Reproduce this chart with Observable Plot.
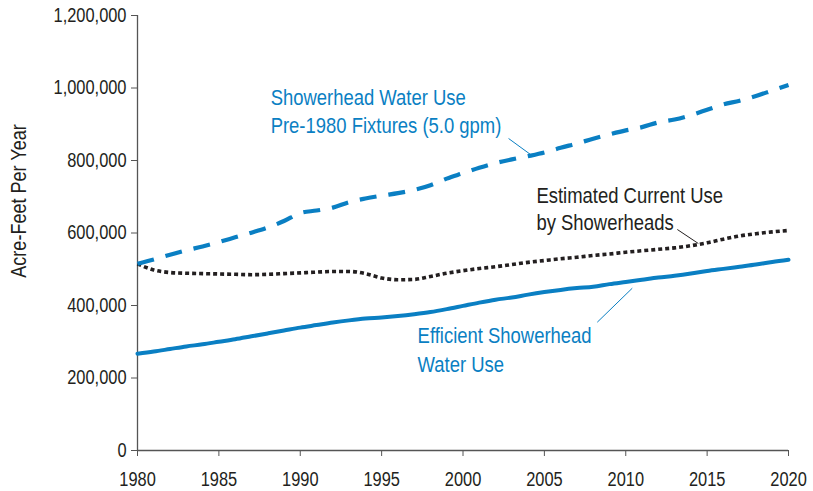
<!DOCTYPE html>
<html><head><meta charset="utf-8">
<script src="https://cdn.jsdelivr.net/npm/d3@7"></script>
<script src="https://cdn.jsdelivr.net/npm/@observablehq/plot@0.6"></script>
<style>
body{margin:0;background:#fff;}
</style></head><body><div id="chart"></div>
<script>
const years = [1980,1981,1982,1983,1984,1985,1986,1987,1988,1989,1990,1991,1992,1993,1994,1995,1996,1997,1998,1999,2000,2001,2002,2003,2004,2005,2006,2007,2008,2009,2010,2011,2012,2013,2014,2015,2016,2017,2018,2019,2020];
const pre1980Use = [515000,527000,540000,552000,563000,575000,588000,601000,615000,633000,655000,662000,670000,685000,695000,703000,710000,719000,732000,750000,765000,780000,793000,803000,812000,822000,835000,847000,860000,872000,883000,892000,905000,913000,925000,940000,955000,965000,978000,993000,1008000];
const currentUse = [515000,498000,491000,489000,488000,487000,486000,485000,486000,488000,490000,492000,494000,494000,488000,476000,471000,472000,480000,489000,496000,502000,507000,513000,519000,524000,529000,533000,538000,542000,547000,551000,555000,559000,565000,573000,583000,592000,598000,603000,607000];
const efficientUse = [267000,273000,280000,287000,293000,300000,307000,315000,323000,331000,339000,346000,353000,359000,364000,367000,371000,376000,382000,390000,399000,408000,416000,422000,430000,437000,443000,448000,452000,459000,465000,471000,477000,482000,488000,495000,501000,507000,513000,520000,526000];
const xTicks = [1980,1985,1990,1995,2000,2005,2010,2015,2020];
const yTicks = [0,200000,400000,600000,800000,1000000,1200000];
const yLabel = "Acre-Feet Per Year";
const labelPre = ["Showerhead Water Use", "Pre-1980 Fixtures (5.0 gpm)"];
const labelCurrent = ["Estimated Current Use", "by Showerheads"];
const labelEfficient = ["Efficient Showerhead", "Water Use"];

const BLUE = "#0a7fc3";
const DARK = "#231f20";
const FONT = "'Liberation Sans',Arial,sans-serif";

const rows = (vals) => years.map((y, i) => ({year: y, value: vals[i]}));

const chart = Plot.plot({
  width: 813,
  height: 491,
  marginLeft: 137,
  marginRight: 25,
  marginTop: 15,
  marginBottom: 41,
  style: {fontFamily: FONT, color: DARK, background: "#fff"},
  x: {domain: [1980, 2020]},
  y: {domain: [0, 1200000]},
  marks: [
    Plot.axisX({ticks: xTicks, tickFormat: d => String(d), tickSize: 6, tickPadding: 15, fontSize: 20, label: null, stroke: "#555"}),
    Plot.axisY({ticks: yTicks, tickFormat: d3.format(","), tickSize: 6, tickPadding: 5, fontSize: 20, label: null, stroke: "#555"}),
    Plot.ruleY([0], {stroke: "#555", strokeWidth: 1.3}),
    Plot.ruleX([1980], {stroke: "#555", strokeWidth: 1.3}),
    Plot.text([yLabel], {frameAnchor: "left", textAnchor: "middle", dx: -119, dy: -32, rotate: -90, fontSize: 22, fill: DARK}),
    Plot.line(rows(efficientUse), {x: "year", y: "value", stroke: BLUE, strokeWidth: 4, curve: "monotone-x"}),
    Plot.line(rows(currentUse), {x: "year", y: "value", stroke: DARK, strokeWidth: 3.6, strokeDasharray: "4,3", strokeLinecap: "butt", curve: "monotone-x"}),
    Plot.line(rows(pre1980Use), {x: "year", y: "value", stroke: BLUE, strokeWidth: 4.2, strokeDasharray: "17,12", strokeLinecap: "butt", curve: "monotone-x"}),
    Plot.link([0], {x1: () => 2002.8, y1: () => 860700, x2: () => 2004.15, y2: () => 816500, stroke: BLUE, strokeWidth: 1}),
    Plot.link([0], {x1: () => 2013.17, y1: () => 609650, x2: () => 2014.46, y2: () => 571000, stroke: DARK, strokeWidth: 1}),
    Plot.link([0], {x1: () => 2008.25, y1: () => 353900, x2: () => 2010.4, y2: () => 447700, stroke: BLUE, strokeWidth: 1}),
    Plot.text(labelPre, {x: () => 1988.18, y: (d, i) => [972400, 895200][i], text: d => d, textAnchor: "start", fontSize: 22.5, fill: BLUE}),
    Plot.text(labelCurrent, {x: () => 2004.51, y: (d, i) => [702600, 629200][i], text: d => d, textAnchor: "start", fontSize: 22.5, fill: DARK}),
    Plot.text(labelEfficient, {x: () => 1997.21, y: (d, i) => [315900, 235900][i], text: d => d, textAnchor: "start", fontSize: 22.5, fill: BLUE})
  ]
});
document.getElementById("chart").appendChild(chart);
// emulate a condensed face: compress each label horizontally
chart.querySelectorAll("text").forEach(t => {
  const len = t.getComputedTextLength();
  if (len > 0) {
    t.setAttribute("textLength", (len * 0.82).toFixed(2));
    t.setAttribute("lengthAdjust", "spacingAndGlyphs");
  }
});
</script>
</body></html>
